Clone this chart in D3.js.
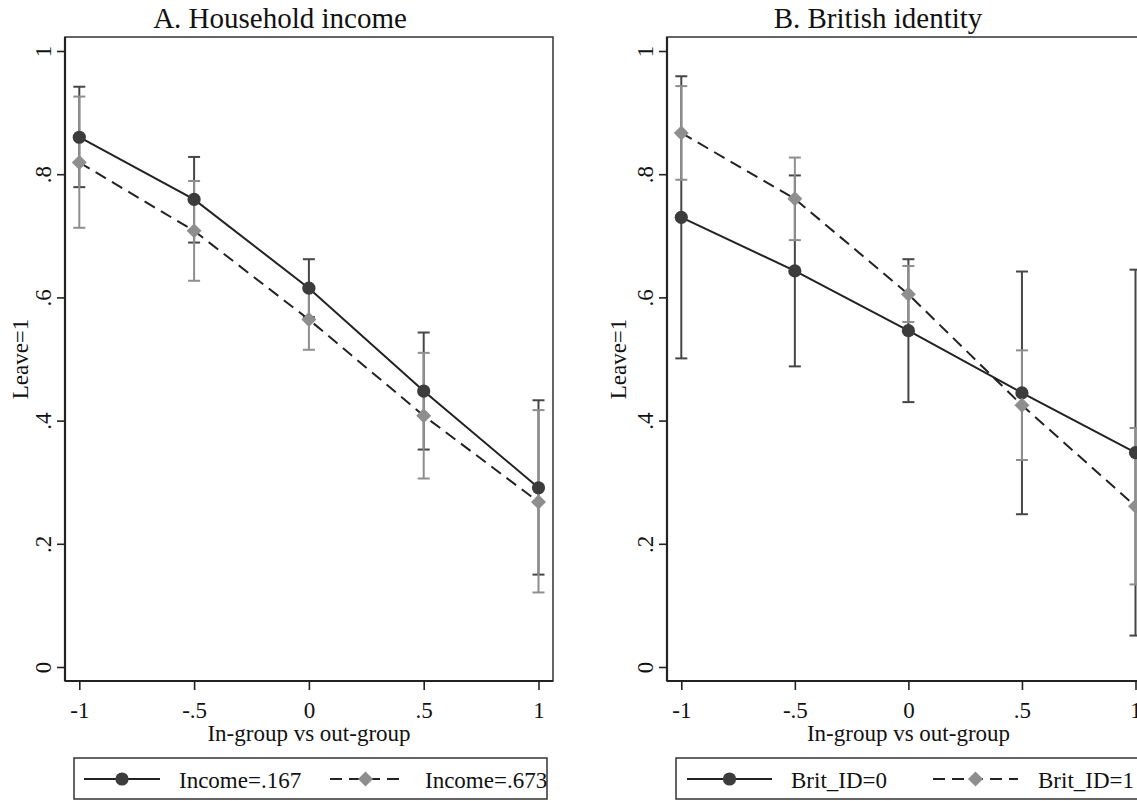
<!DOCTYPE html>
<html>
<head>
<meta charset="utf-8">
<script src="https://cdn.jsdelivr.net/npm/d3@7"></script>
<style>
  body { margin: 0; background: #fff; }
  svg { display: block; font-family: "Liberation Serif", "Times New Roman", serif; }
</style>
</head>
<body>
<div id="chart"></div>
<script>
// x categories and tick labels
const xCats = [-1, -0.5, 0, 0.5, 1];
const xTickLabels = ['-1', '-.5', '0', '.5', '1'];
const yTicks = [0, 0.2, 0.4, 0.6, 0.8, 1];
const yTickLabels = ['0', '.2', '.4', '.6', '.8', '1'];

// A. Household income
const incomeLow = [0.860, 0.759, 0.615, 0.448, 0.291];
const incomeLowLo = [0.779, 0.689, 0.568, 0.353, 0.150];
const incomeLowHi = [0.942, 0.828, 0.662, 0.543, 0.433];
const incomeHigh = [0.819, 0.708, 0.564, 0.408, 0.268];
const incomeHighLo = [0.713, 0.627, 0.515, 0.306, 0.121];
const incomeHighHi = [0.926, 0.789, 0.613, 0.510, 0.417];

// B. British identity
const britNo = [0.730, 0.643, 0.546, 0.445, 0.348];
const britNoLo = [0.501, 0.488, 0.430, 0.248, 0.051];
const britNoHi = [0.959, 0.798, 0.662, 0.642, 0.645];
const britYes = [0.867, 0.760, 0.605, 0.425, 0.261];
const britYesLo = [0.791, 0.693, 0.560, 0.336, 0.134];
const britYesHi = [0.943, 0.827, 0.651, 0.514, 0.388];

const width = 1137, height = 801;
const dark = '#3c3c3c', grey = '#8e8e8e';

const svg = d3.select('#chart').append('svg')
  .attr('width', width).attr('height', height);

const panels = [
  {
    title: 'A. Household income', titleX: 280,
    left: 65, right: 553, yTitleX: 28,
    series: [
      { label: 'Income=.167', y: incomeLow, lo: incomeLowLo, hi: incomeLowHi },
      { label: 'Income=.673', y: incomeHigh, lo: incomeHighLo, hi: incomeHighHi }
    ],
    legend: { left: 74, right: 547, l1: [84, 160], t1: 179, l2: [330, 401], t2: 425 }
  },
  {
    title: 'B. British identity', titleX: 878,
    left: 667, right: 1150, yTitleX: 626,
    series: [
      { label: 'Brit_ID=0', y: britNo, lo: britNoLo, hi: britNoHi },
      { label: 'Brit_ID=1', y: britYes, lo: britYesLo, hi: britYesHi }
    ],
    legend: { left: 676, right: 1160, l1: [687, 772], t1: 791, l2: [933, 1018], t2: 1038 }
  }
];

const plotTop = 37, plotBottom = 681;
const y = d3.scaleLinear().domain([0, 1]).range([667, 51]);

const styles = [
  { line: '#222', dash: null, bar: '#464646', fill: dark, shape: 'circle' },
  { line: '#222', dash: '12,7', bar: grey, fill: grey, shape: 'diamond' }
];

function drawMarker(g, shape, cx, cy, fill) {
  if (shape === 'circle') {
    g.append('circle').attr('cx', cx).attr('cy', cy).attr('r', 6.6).attr('fill', fill);
  } else {
    g.append('path')
      .attr('d', d3.symbol().type(d3.symbolSquare).size(112)())
      .attr('transform', `translate(${cx},${cy}) rotate(45)`)
      .attr('fill', fill);
  }
}

panels.forEach(p => {
  const x = d3.scaleLinear().domain([-1, 1]).range([p.left + 14.3, p.right - 14.5]);
  const g = svg.append('g');

  // title
  g.append('text').attr('x', p.titleX).attr('y', 28)
    .attr('text-anchor', 'middle').attr('font-size', 29).attr('fill', '#111')
    .text(p.title);

  // plot box
  g.append('rect').attr('x', p.left).attr('y', plotTop)
    .attr('width', p.right - p.left).attr('height', plotBottom - plotTop)
    .attr('fill', 'none').attr('stroke', '#333').attr('stroke-width', 1.5);

  // y axis
  const yAxis = d3.axisLeft(y).tickValues(yTicks)
    .tickFormat((d, i) => yTickLabels[i]).tickSize(8).tickPadding(4);
  const ya = g.append('g').attr('transform', `translate(${p.left},0)`).call(yAxis)
    .attr('font-family', null).attr('font-size', 23);
  ya.select('.domain').attr('stroke', '#222').attr('stroke-width', 2.2)
    .attr('d', `M0,${plotTop}V${plotBottom}`);
  ya.selectAll('.tick line').attr('stroke', '#222').attr('stroke-width', 1.6);
  ya.selectAll('.tick text')
    .attr('fill', '#111')
    .attr('text-anchor', 'middle').attr('x', null).attr('dy', null)
    .attr('transform', 'translate(-14,0) rotate(-90)');

  // x axis
  const xAxis = d3.axisBottom(x).tickValues(xCats)
    .tickFormat((d, i) => xTickLabels[i]).tickSize(9).tickPadding(4);
  const xa = g.append('g').attr('transform', `translate(0,${plotBottom})`).call(xAxis)
    .attr('font-family', null).attr('font-size', 23);
  xa.select('.domain').attr('stroke', '#222').attr('stroke-width', 2.2)
    .attr('d', `M${p.left},0H${p.right}`);
  xa.selectAll('.tick line').attr('stroke', '#222').attr('stroke-width', 1.6);
  xa.selectAll('.tick text')
    .attr('fill', '#111').attr('dy', null).attr('y', 37);

  // axis titles
  g.append('text')
    .attr('transform', `translate(${p.yTitleX},${(plotTop + plotBottom) / 2}) rotate(-90)`)
    .attr('text-anchor', 'middle').attr('font-size', 23).attr('fill', '#111')
    .text('Leave=1');
  g.append('text').attr('x', (p.left + p.right) / 2).attr('y', 741)
    .attr('text-anchor', 'middle').attr('font-size', 23).attr('fill', '#111')
    .text('In-group vs out-group');

  // confidence intervals
  p.series.forEach((s, si) => {
    const st = styles[si];
    const bars = g.append('g').attr('stroke', st.bar).attr('stroke-width', 2).attr('fill', 'none');
    xCats.forEach((c, i) => {
      const cx = x(c);
      bars.append('line').attr('x1', cx).attr('x2', cx).attr('y1', y(s.lo[i])).attr('y2', y(s.hi[i]));
      [s.lo[i], s.hi[i]].forEach(v => {
        bars.append('line').attr('x1', cx - 6).attr('x2', cx + 6).attr('y1', y(v)).attr('y2', y(v));
      });
    });
  });

  // lines and markers
  const line = d3.line().x((d, i) => x(xCats[i])).y(d => y(d));
  p.series.forEach((s, si) => {
    const st = styles[si];
    g.append('path').datum(s.y).attr('d', line)
      .attr('fill', 'none').attr('stroke', st.line).attr('stroke-width', 2)
      .attr('stroke-dasharray', st.dash);
    s.y.forEach((v, i) => drawMarker(g, st.shape, x(xCats[i]), y(v), st.fill));
  });

  // legend
  const L = p.legend;
  g.append('rect').attr('x', L.left).attr('y', 758)
    .attr('width', L.right - L.left).attr('height', 41)
    .attr('fill', 'none').attr('stroke', '#333').attr('stroke-width', 1.5);
  const ly = 779;
  [[L.l1, L.t1], [L.l2, L.t2]].forEach(([seg, tx], si) => {
    const st = styles[si];
    g.append('line').attr('x1', seg[0]).attr('x2', seg[1]).attr('y1', ly).attr('y2', ly)
      .attr('stroke', st.line).attr('stroke-width', 2).attr('stroke-dasharray', st.dash);
    drawMarker(g, st.shape, (seg[0] + seg[1]) / 2, ly, st.fill);
    g.append('text').attr('x', tx).attr('y', 788)
      .attr('font-size', 23).attr('fill', '#111').text(p.series[si].label);
  });
});
</script>
</body>
</html>
